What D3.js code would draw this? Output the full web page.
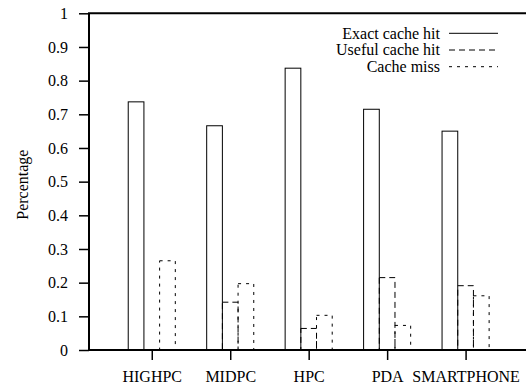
<!DOCTYPE html>
<html>
<head>
<meta charset="utf-8">
<script src="https://cdn.jsdelivr.net/npm/d3@7"></script>
<style>
  html, body { margin: 0; padding: 0; background: #fff; }
  svg { display: block; font-family: "Liberation Serif", "Times New Roman", serif; }
</style>
</head>
<body>
<svg id="chart" width="526" height="386"></svg>
<script>
// Device classes on the x axis
const categories = ["HIGHPC", "MIDPC", "HPC", "PDA", "SMARTPHONE"];

// Share of requests per outcome, one value per device class
const exactHit  = [0.737, 0.666, 0.837, 0.715, 0.650];
const usefulHit = [0.000, 0.142, 0.064, 0.215, 0.191];
const cacheMiss = [0.265, 0.197, 0.103, 0.073, 0.161];

const seriesNames = ["Exact cache hit", "Useful cache hit", "Cache miss"];
const yTicks = [0, 0.1, 0.2, 0.3, 0.4, 0.5, 0.6, 0.7, 0.8, 0.9, 1];

const series = [
  { name: seriesNames[0], values: exactHit,  dash: null },
  { name: seriesNames[1], values: usefulHit, dash: "6,4" },
  { name: seriesNames[2], values: cacheMiss, dash: "3,5" }
];

const svg = d3.select("#chart");
const plotLeft = 89, plotRight = 526, plotTop = 13.3, plotBottom = 350;

const x = d3.scaleLinear().domain([-0.8, 4.77]).range([plotLeft, plotRight]);
const y = d3.scaleLinear().domain([0, 1]).range([plotBottom, plotTop]);
const barW = 0.2;

// Bars: three boxes per group, outlined only
series.forEach((s, si) => {
  const off = (si - 1) * barW;
  svg.append("g")
    .selectAll("rect")
    .data(s.values.map((v, i) => ({ v, i })).filter(d => d.v > 0))
    .join("rect")
      .attr("x", d => x(d.i + off - barW / 2))
      .attr("width", d => x(d.i + off + barW / 2) - x(d.i + off - barW / 2))
      .attr("y", d => y(d.v))
      .attr("height", d => y(0) - y(d.v))
      .attr("fill", "none")
      .attr("stroke", "#000")
      .attr("stroke-width", 1)
      .attr("stroke-dasharray", s.dash);
});

// Y axis
const yAxis = svg.append("g")
  .attr("transform", `translate(${plotLeft},0)`)
  .call(d3.axisLeft(y).tickValues(yTicks).tickFormat(d3.format("")).tickSize(10).tickSizeOuter(0).tickPadding(11));
yAxis.select(".domain").remove();
yAxis.selectAll(".tick line").attr("stroke", "#000").attr("stroke-width", 1.5);
yAxis.selectAll(".tick text").attr("font-size", 16).attr("fill", "#000")
  .attr("font-family", "Liberation Serif, serif");

// X axis
const xAxis = svg.append("g")
  .attr("transform", `translate(0,${plotBottom})`)
  .call(d3.axisBottom(x).tickValues(d3.range(categories.length)).tickFormat(i => categories[i]).tickSize(10).tickSizeOuter(0).tickPadding(11));
xAxis.select(".domain").remove();
xAxis.selectAll(".tick line").attr("stroke", "#000").attr("stroke-width", 1.5);
xAxis.selectAll(".tick text").attr("font-size", 16).attr("fill", "#000")
  .attr("font-family", "Liberation Serif, serif");

// Frame: left, top and bottom borders
svg.append("path")
  .attr("d", `M${plotRight},${plotTop}H${plotLeft}V${plotBottom}H${plotRight}`)
  .attr("fill", "none")
  .attr("stroke", "#000")
  .attr("stroke-width", 2);

// Y axis title
svg.append("text")
  .attr("transform", `translate(28,${(plotTop + plotBottom) / 2 + 3}) rotate(-90)`)
  .attr("text-anchor", "middle")
  .attr("font-size", 16)
  .text("Percentage");

// Legend
const legend = svg.append("g");
series.forEach((s, i) => {
  const ly = 33.3 + i * 16.7;
  legend.append("text")
    .attr("x", 440).attr("y", ly)
    .attr("dy", "0.33em")
    .attr("text-anchor", "end")
    .attr("font-size", 16)
    .text(s.name);
  legend.append("line")
    .attr("x1", 449).attr("x2", 498)
    .attr("y1", ly).attr("y2", ly)
    .attr("stroke", "#000")
    .attr("stroke-width", 1)
    .attr("stroke-dasharray", s.dash);
});
</script>
</body>
</html>
